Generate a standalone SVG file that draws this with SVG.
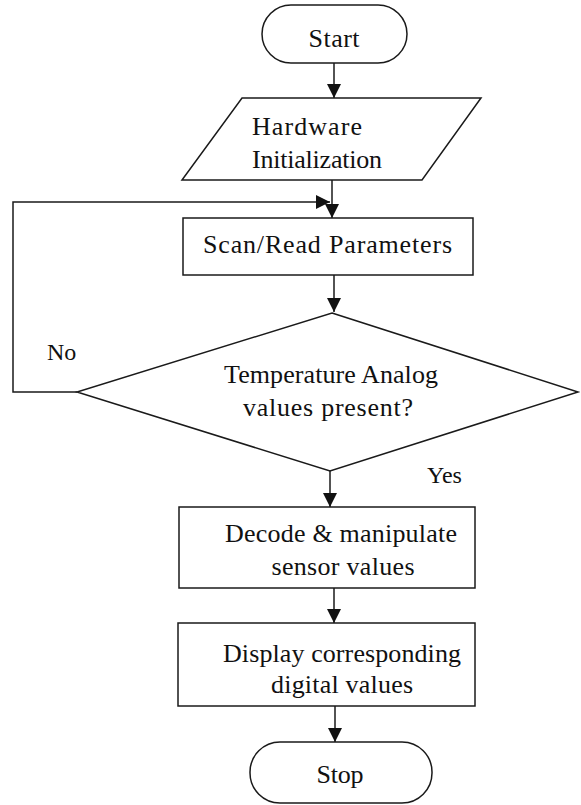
<svg xmlns="http://www.w3.org/2000/svg" width="581" height="805" viewBox="0 0 581 805">
<style>
.s{fill:#fff;stroke:#1a1a1a;stroke-width:1.5}
.c{fill:none;stroke:#1a1a1a;stroke-width:1.5}
text{font-family:"Liberation Serif","Times New Roman",serif;font-size:26px;fill:#111}
.m{text-anchor:middle}
.l{font-size:24px}
</style>
<defs>
<marker id="ah" markerUnits="userSpaceOnUse" markerWidth="14" markerHeight="14" viewBox="0 0 12 12" refX="12" refY="6" orient="auto">
<path d="M0,0 L12,6 L0,12 Z" fill="#111"/>
</marker>
</defs>
<g id="connectors">
<line class="c" x1="334" y1="63" x2="334" y2="98" marker-end="url(#ah)"/>
<line class="c" x1="332" y1="180" x2="332" y2="218" marker-end="url(#ah)"/>
<line class="c" x1="334" y1="275" x2="334" y2="312" marker-end="url(#ah)"/>
<polyline class="c" points="77,392 13,392 13,202 330,202" marker-end="url(#ah)"/>
<line class="c" x1="330" y1="471" x2="330" y2="507" marker-end="url(#ah)"/>
<line class="c" x1="334" y1="588" x2="334" y2="623" marker-end="url(#ah)"/>
<line class="c" x1="335" y1="706" x2="335" y2="742" marker-end="url(#ah)"/>
<text x="47" y="360" class="l">No</text>
<text x="427" y="483" class="l">Yes</text>
</g>
<g id="start">
<rect class="s" x="262" y="5" width="145" height="58" rx="29" ry="29"/>
<text x="334" y="47" class="m" textLength="51">Start</text>
</g>
<g id="hardware">
<polygon class="s" points="242,98 481,98 422,180 182,180"/>
<text x="252" y="135" textLength="110">Hardware</text>
<text x="252" y="168" textLength="130">Initialization</text>
</g>
<g id="scan">
<rect class="s" x="183" y="218" width="290" height="57"/>
<text x="203" y="253" textLength="249">Scan/Read Parameters</text>
</g>
<g id="decision">
<polygon class="s" points="332,313 578,392 330,471 77,392"/>
<text x="331" y="383" class="m" textLength="214">Temperature Analog</text>
<text x="328" y="416" class="m" textLength="170">values present?</text>
</g>
<g id="decode">
<rect class="s" x="179" y="507" width="296" height="81"/>
<text x="341" y="542" class="m" textLength="232">Decode &amp; manipulate</text>
<text x="343" y="575" class="m" textLength="143">sensor values</text>
</g>
<g id="display">
<rect class="s" x="178" y="623" width="297" height="83"/>
<text x="223" y="662" textLength="238">Display corresponding</text>
<text x="342" y="693" class="m" textLength="142">digital  values</text>
</g>
<g id="stop">
<rect class="s" x="250" y="742" width="182" height="61" rx="30" ry="30"/>
<text x="340" y="783" class="m" textLength="47">Stop</text>
</g>
</svg>
